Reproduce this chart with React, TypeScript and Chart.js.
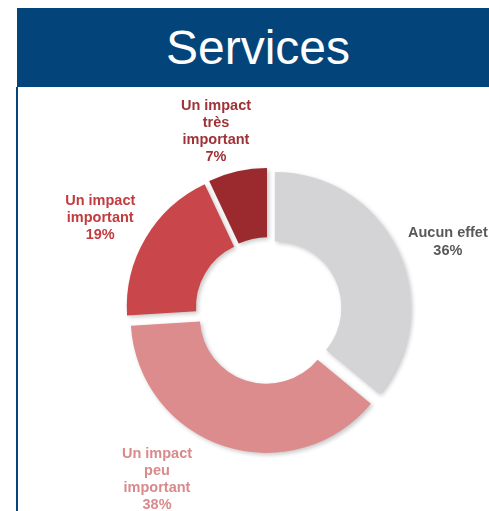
import React, { useEffect, useRef } from "react";
import { Chart, registerables } from "chart.js";

Chart.register(...registerables);

const categories = ["Aucun effet", "Un impact peu important", "Un impact important", "Un impact très important"];
const values = [36, 38, 19, 7];
const labelLines = [
  ["Aucun effet", "36%"],
  ["Un impact", "peu", "important", "38%"],
  ["Un impact", "important", "19%"],
  ["Un impact", "très", "important", "7%"],
];
const sliceColors = ["#d4d4d6", "#dd8c8e", "#c9474a", "#9b2a2f"];
const labelColors = ["#595959", "#d98a8c", "#c23b3e", "#9e3237"];
// label block centre: [angle clockwise from top in degrees, distance from donut centre in px]
const labelAnchors: [number, number][] = [
  [69.1, 192],
  [213.5, 202],
  [298.8, 192],
  [343.7, 187],
];

const W = 471;
const H = 423;
const CX = 250.5;
const CY = 222.6;
const R = 135.7;
const HALF = 150;
const EXPLODE = 7;

const labelPlugin = {
  id: "sliceLabels",
  afterDraw(chart: any) {
    const ctx = chart.ctx;
    const area = chart.chartArea;
    const cx = (area.left + area.right) / 2;
    const cy = (area.top + area.bottom) / 2;
    ctx.save();
    ctx.font = "bold 14.5px 'Liberation Sans', Arial, sans-serif";
    ctx.textAlign = "center";
    ctx.textBaseline = "middle";
    labelLines.forEach((lines, i) => {
      const [deg, dist] = labelAnchors[i];
      const a = (deg * Math.PI) / 180;
      const x = cx + Math.sin(a) * dist;
      const y = cy - Math.cos(a) * dist;
      const lh = i === 0 ? 18 : 17;
      const startY = y - ((lines.length - 1) * lh) / 2;
      ctx.fillStyle = labelColors[i];
      lines.forEach((t, k) => ctx.fillText(t, x, startY + k * lh));
    });
    ctx.restore();
  },
};

// Exploded slices: translate each arc outward along its mid-angle (pure translation, no radius growth)
const explodePlugin = {
  id: "explode",
  beforeDatasetsDraw(chart: any) {
    const ctx = chart.ctx;
    chart.getDatasetMeta(0).data.forEach((el: any) => {
      if (el.__exploded) return;
      const orig = el.draw;
      el.draw = function (c: CanvasRenderingContext2D, area: any) {
        const mid = (this.startAngle + this.endAngle) / 2;
        c.save();
        c.translate(Math.cos(mid) * EXPLODE, Math.sin(mid) * EXPLODE);
        orig.call(this, c, area);
        c.restore();
      };
      el.__exploded = true;
    });
    ctx.save();
    ctx.shadowColor = "rgba(0,0,0,0.22)";
    ctx.shadowBlur = 4;
    ctx.shadowOffsetX = 2;
    ctx.shadowOffsetY = 2;
  },
  afterDatasetsDraw(chart: any) {
    chart.ctx.restore();
  },
};

export default function App() {
  const ref = useRef<HTMLCanvasElement>(null);
  useEffect(() => {
    const prevMargin = document.body.style.margin;
    document.body.style.margin = "0";
    const chart = new Chart(ref.current!, {
      type: "doughnut",
      data: {
        labels: categories,
        datasets: [
          {
            data: values,
            backgroundColor: sliceColors,
            borderWidth: 0,
          },
        ],
      },
      options: {
        animation: false,
        responsive: false,
        events: [],
        radius: R,
        cutout: "49%",
        layout: {
          padding: {
            left: CX - HALF,
            right: W - (CX + HALF),
            top: CY - HALF,
            bottom: H - (CY + HALF),
          },
        },
        plugins: {
          legend: { display: false },
          tooltip: { enabled: false },
        },
      } as any,
      plugins: [explodePlugin, labelPlugin],
    });
    return () => {
      chart.destroy();
      document.body.style.margin = prevMargin;
    };
  }, []);

  return (
    <div style={{ position: "absolute", left: 0, top: 0, width: 489, height: 511, background: "#fff", overflow: "hidden" }}>
      <div
        style={{
          position: "absolute",
          left: 17,
          top: 8,
          width: 472,
          height: 79,
          background: "#03457a",
          color: "#fff",
          fontFamily: "'Liberation Sans', Arial, sans-serif",
          fontSize: 48,
          lineHeight: "79px",
          textAlign: "center",
          paddingLeft: 10,
          boxSizing: "border-box",
        }}
      >
        Services
      </div>
      <div style={{ position: "absolute", left: 16, top: 87, width: 2, height: 424, background: "#03457a" }} />
      <canvas ref={ref} width={W} height={H} style={{ position: "absolute", left: 18, top: 88, width: W, height: H }} />
    </div>
  );
}
